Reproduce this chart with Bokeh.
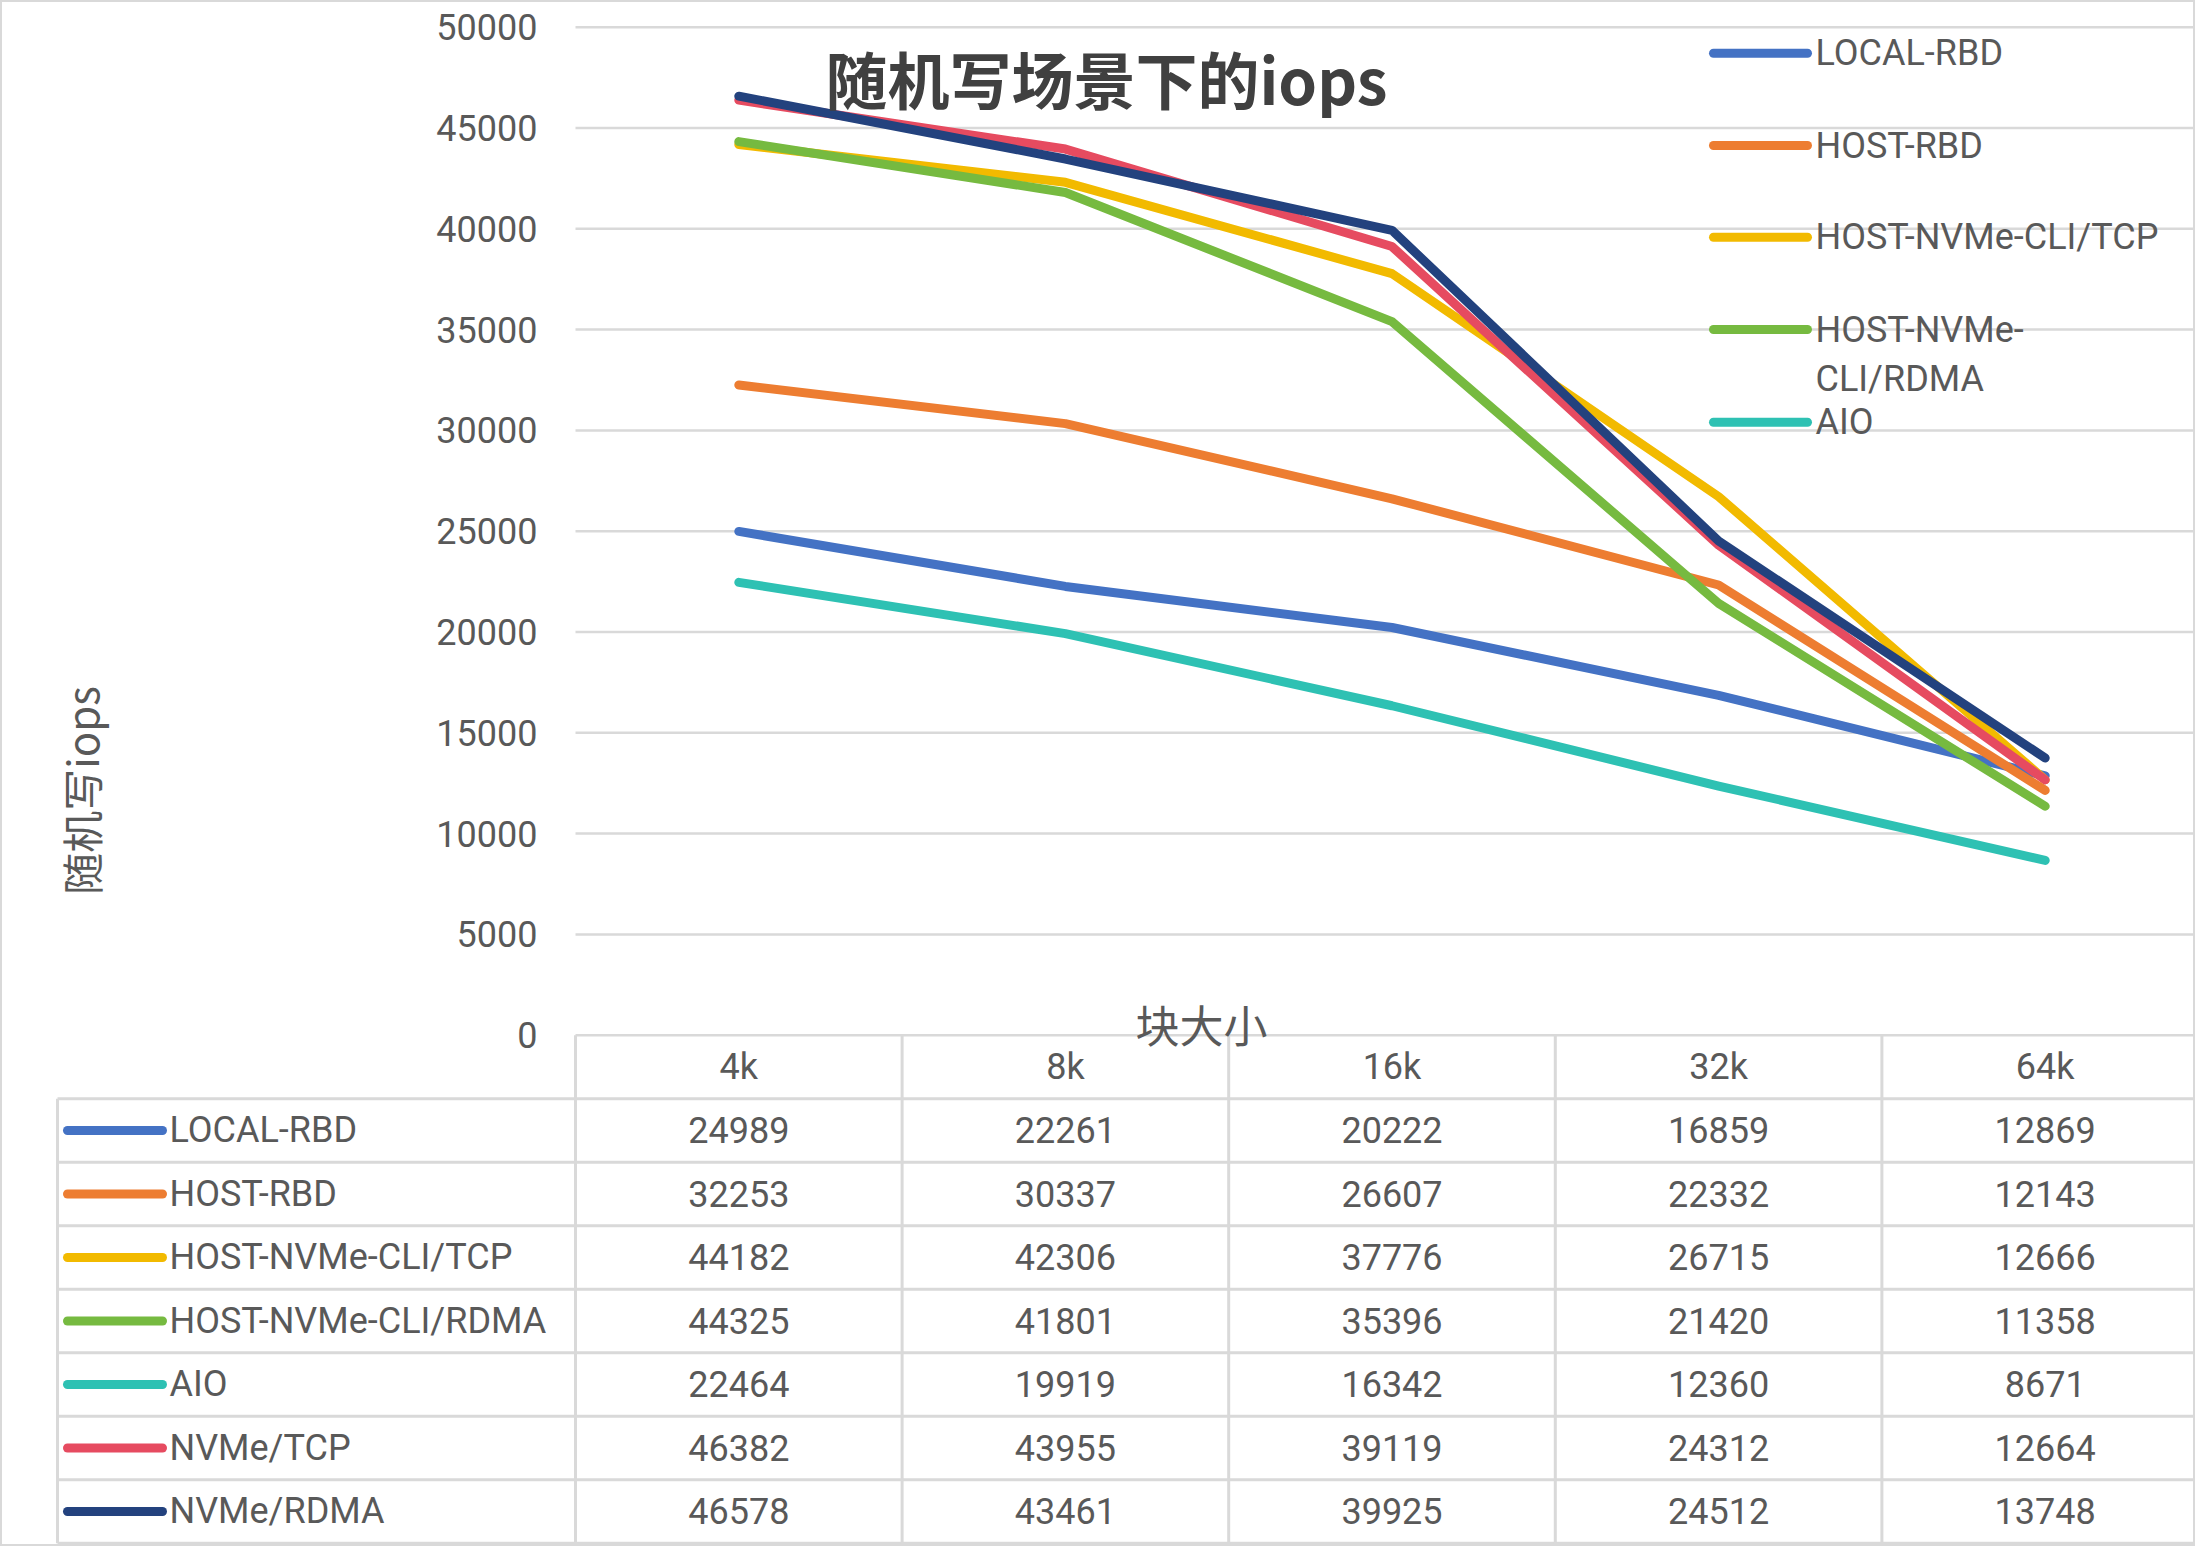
from bokeh.plotting import figure
from bokeh.models import Range1d, LinearAxis, FixedTicker, Label
from bokeh.core.properties import value
from bokeh.embed import file_html
from bokeh.resources import INLINE

# ---------------- data ----------------
block_sizes = ["4k", "8k", "16k", "32k", "64k"]
series_names = ["LOCAL-RBD", "HOST-RBD", "HOST-NVMe-CLI/TCP", "HOST-NVMe-CLI/RDMA",
                "AIO", "NVMe/TCP", "NVMe/RDMA"]
local_rbd = [24989, 22261, 20222, 16859, 12869]
host_rbd = [32253, 30337, 26607, 22332, 12143]
host_nvme_cli_tcp = [44182, 42306, 37776, 26715, 12666]
host_nvme_cli_rdma = [44325, 41801, 35396, 21420, 11358]
aio = [22464, 19919, 16342, 12360, 8671]
nvme_tcp = [46382, 43955, 39119, 24312, 12664]
nvme_rdma = [46578, 43461, 39925, 24512, 13748]
y_ticks = [0, 5000, 10000, 15000, 20000, 25000, 30000, 35000, 40000, 45000, 50000]
chart_title = "随机写场景下的iops"
x_title = "块大小"
y_title = "随机写iops"
legend_labels = [["LOCAL-RBD"], ["HOST-RBD"], ["HOST-NVMe-CLI/TCP"], ["HOST-NVMe-", "CLI/RDMA"], ["AIO"]]

series_values = [local_rbd, host_rbd, host_nvme_cli_tcp, host_nvme_cli_rdma, aio, nvme_tcp, nvme_rdma]
series_colors = ["#4472C4", "#ED7D31", "#F2BA00", "#76BA40", "#2EC1B3", "#E64B60", "#23427E"]

# ---------------- layout (pixel geometry) ----------------
W, H = 2195, 1546
X0, DX = 738.3, 326.6          # px of first category, px per category
Y0, DY = 1034.7, 0.02016       # px of value 0, px per unit value
DT = 63.5                      # px per table row
T0 = Y0 + 0.5 * DT             # px of table header centre

def xd(px):
    return (px - X0) / DX

def yd(py):
    return (Y0 - py) / DY

def td(py):
    return (py - T0) / DT

TXT = "#595959"
GRID = "#d9d9d9"
FONT = "Roboto"
FS = "36px"

p = figure(width=W, height=H,
           x_range=Range1d(xd(0), xd(W)), y_range=Range1d(yd(H), yd(0)),
           output_backend="svg", toolbar_location=None,
           x_axis_type=None, y_axis_type=None, min_border=0,
           background_fill_color="white", border_fill_color="white",
           outline_line_color=GRID, outline_line_width=3)
p.title.visible = False
p.extra_y_ranges = {"table": Range1d(td(H), td(0))}

n_cat = len(block_sizes)
x_idx = list(range(n_cat))
left_edge, right_edge = -0.5, n_cat - 0.5

# horizontal grid lines of the plot area
p.segment(x0=[left_edge] * len(y_ticks), x1=[right_edge] * len(y_ticks),
          y0=y_ticks, y1=y_ticks, line_color=GRID, line_width=2.5)

# data table grid
n_rows = len(series_names)
row_bounds = [r + 0.5 for r in range(n_rows + 1)]
tbl_left = xd(57)
p.segment(x0=[tbl_left] * len(row_bounds), x1=[right_edge] * len(row_bounds),
          y0=row_bounds, y1=row_bounds, line_color=GRID, line_width=3, y_range_name="table")
col_bounds = [i - 0.5 for i in range(n_cat + 1)]
p.segment(x0=col_bounds, x1=col_bounds, y0=[-0.5] * len(col_bounds), y1=[n_rows + 0.5] * len(col_bounds),
          line_color=GRID, line_width=3, y_range_name="table")
p.segment(x0=[tbl_left], x1=[tbl_left], y0=[0.5], y1=[n_rows + 0.5],
          line_color=GRID, line_width=3, y_range_name="table")

# series lines
for vals, col in zip(series_values, series_colors):
    p.line(x_idx, vals, line_color=col, line_width=9, line_join="round", line_cap="round")

# table cells
cx, ct, ctext = [], [], []
for r, vals in enumerate(series_values, start=1):
    for i, v in enumerate(vals):
        cx.append(i)
        ct.append(r)
        ctext.append(str(v))
p.text(x=cx, y=ct, text=ctext, y_range_name="table", text_font=value(FONT),
       text_font_size=FS, text_color=TXT, text_align="center", text_baseline="middle")

# table legend keys
rows = list(range(1, n_rows + 1))
p.segment(x0=[xd(67)] * n_rows, x1=[xd(162)] * n_rows, y0=rows, y1=rows,
          line_color=series_colors, line_width=9, line_cap="round", y_range_name="table")
p.text(x=[xd(169)] * n_rows, y=rows, text=series_names, y_range_name="table",
       text_font=value(FONT), text_font_size=FS, text_color=TXT,
       text_align="left", text_baseline="middle")

# right-hand legend (only five entries fit)
leg_y = [52.7, 145.0, 236.7, 329.0, 421.7]
leg_line_y = [yd(v) for v in leg_y]
p.segment(x0=[xd(1713)] * len(leg_y), x1=[xd(1807)] * len(leg_y), y0=leg_line_y, y1=leg_line_y,
          line_color=series_colors[:len(leg_y)], line_width=9, line_cap="round")
lx, ly, lt = [], [], []
for k, lines in enumerate(legend_labels):
    for j, s in enumerate(lines):
        lx.append(xd(1815))
        ly.append(yd(leg_y[k] + 49 * j))
        lt.append(s)
p.text(x=lx, y=ly, text=lt, text_font=value(FONT), text_font_size=FS, text_color=TXT,
       text_align="left", text_baseline="middle")

# axes
yax = LinearAxis(fixed_location=left_edge, ticker=FixedTicker(ticks=y_ticks),
                 major_tick_out=0, major_tick_in=0, minor_tick_out=0, minor_tick_in=0,
                 axis_line_color=None, major_label_standoff=38,
                 major_label_text_font=FONT, major_label_text_font_size=FS,
                 major_label_text_color=TXT)
p.add_layout(yax, "left")

xax = LinearAxis(fixed_location=0, ticker=FixedTicker(ticks=x_idx),
                 major_label_overrides={i: s for i, s in enumerate(block_sizes)},
                 major_tick_out=0, major_tick_in=0, minor_tick_out=0, minor_tick_in=0,
                 axis_line_color=None, major_label_standoff=11,
                 major_label_text_font=FONT, major_label_text_font_size=FS,
                 major_label_text_color=TXT)
p.add_layout(xax, "below")

# titles
p.add_layout(Label(x=xd(1106), y=yd(77), text=chart_title, text_font="Noto Sans CJK SC",
                   text_font_style="bold", text_font_size="62px", text_color="#404040",
                   text_align="center", text_baseline="middle"))
p.add_layout(Label(x=xd(1201), y=yd(1023), text=x_title, text_font="Noto Sans CJK SC",
                   text_font_size="44px", text_color=TXT,
                   text_align="center", text_baseline="middle"))
p.add_layout(Label(x=xd(80), y=yd(790), text=y_title, text_font="Noto Sans CJK SC",
                   text_font_size="42px", text_color=TXT, angle=90, angle_units="deg",
                   text_align="center", text_baseline="middle"))

open("out.html", "w").write(file_html(p, INLINE))
